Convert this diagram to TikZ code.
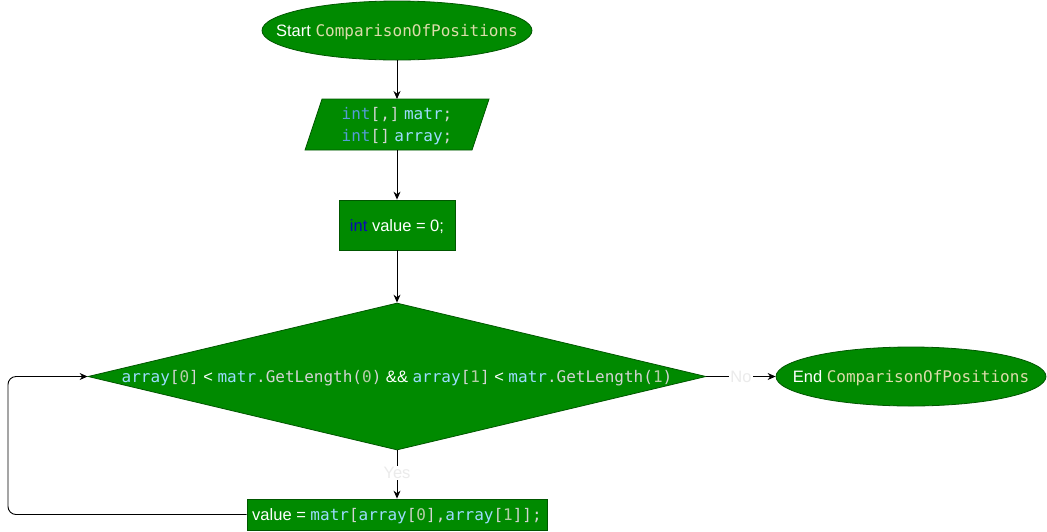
\documentclass[tikz,border=0pt]{standalone}
\usepackage{fontspec}
\setmainfont{Liberation Sans}
\newfontfamily\codefont[Scale=0.97]{DejaVu Sans Mono}
\usetikzlibrary{shapes.geometric,arrows.meta}
\definecolor{gfill}{HTML}{008A00}
\definecolor{gline}{HTML}{005700}
\definecolor{cvar}{HTML}{9CDCFE}
\definecolor{cpun}{HTML}{D4D4D4}
\definecolor{cnum}{HTML}{B5CEA8}
\definecolor{cfun}{HTML}{DCDCAA}
\definecolor{ckey}{HTML}{569CD6}
\definecolor{ckeyd}{HTML}{0A0AB4}
\definecolor{clab}{HTML}{EBEBEB}
\newcommand\cd[2]{{\codefont\color{#1}#2}}
\tikzset{
  shp/.style={draw=gline, fill=gfill, line width=0.8pt, inner sep=0pt},
  ell/.style={shp, ellipse},
  txt/.style={text=white, font=\fontsize{16.5}{22}\selectfont, inner sep=0pt, align=center, yshift=-1.5pt},
  arr/.style={draw=black, line width=0.9pt, -{Stealth[length=8pt,width=7pt]}},
  lab/.style={text=clab, fill=white, font=\fontsize{16.5}{20}\selectfont, inner sep=1pt}
}
\begin{document}
\begin{tikzpicture}[x=1pt,y=-1pt]
\useasboundingbox (0,0) rectangle (1047,531);
% start
\node[ell, minimum width=270, minimum height=59] (start) at (397,30.5) {};
\node[txt] (starttxt) at (start.center) {Start \cd{cfun}{ComparisonOfPositions}};
% declarations (parallelogram)
\coordinate (ptop) at (397,99);
\coordinate (pbot) at (397,150);
\draw[shp] (322,99) -- (489,99) -- (472,150) -- (305,150) -- cycle;
\node[txt] (decl) at (397,125) {\cd{ckey}{int}\cd{cpun}{[,]} \cd{cvar}{matr}\cd{cpun}{;}\\\cd{ckey}{int}\cd{cpun}{[]} \cd{cvar}{array}\cd{cpun}{;}};
% init
\node[shp, minimum width=116, minimum height=50] (init) at (397,225) {};
\node[txt] at (init.center) {\textcolor{ckeyd}{int} value = 0;};
% decision
\node[shp, diamond, minimum width=618, minimum height=147] (dia) at (397,376.5) {};
\node[txt] at (dia.center) {\cd{cvar}{array}\cd{cpun}{[}\cd{cnum}{0}\cd{cpun}{]} < \cd{cvar}{matr}\cd{cpun}{.GetLength(}\cd{cnum}{0}\cd{cpun}{)} \&\& \cd{cvar}{array}\cd{cpun}{[}\cd{cnum}{1}\cd{cpun}{]} < \cd{cvar}{matr}\cd{cpun}{.GetLength(}\cd{cnum}{1}\cd{cpun}{)}};
% end
\node[ell, minimum width=270, minimum height=59] (endn) at (911,376.5) {};
\node[txt] at (endn.center) {End \cd{cfun}{ComparisonOfPositions}};
% body
\node[shp, minimum width=300, minimum height=31] (body) at (397,514.5) {};
\node[txt] at (body.center) {value = \cd{cvar}{matr}\cd{cpun}{[}\cd{cvar}{array}\cd{cpun}{[}\cd{cnum}{0}\cd{cpun}{],}\cd{cvar}{array}\cd{cpun}{[}\cd{cnum}{1}\cd{cpun}{]];}};
% connectors
\draw[arr] (start.south) -- (ptop);
\draw[arr] (pbot) -- (init.north);
\draw[arr] (init.south) -- (dia.north);
\draw[arr] (dia.east) -- node[lab] (nolab) {No} (endn.west);
\draw[arr] (dia.south) -- node[lab, pos=0.47] (yeslab) {Yes} (body.north);
\draw[arr, rounded corners=8] (body.west) -- (8,514.5) -- (8,376.5) -- (dia.west);
\end{tikzpicture}
\end{document}
